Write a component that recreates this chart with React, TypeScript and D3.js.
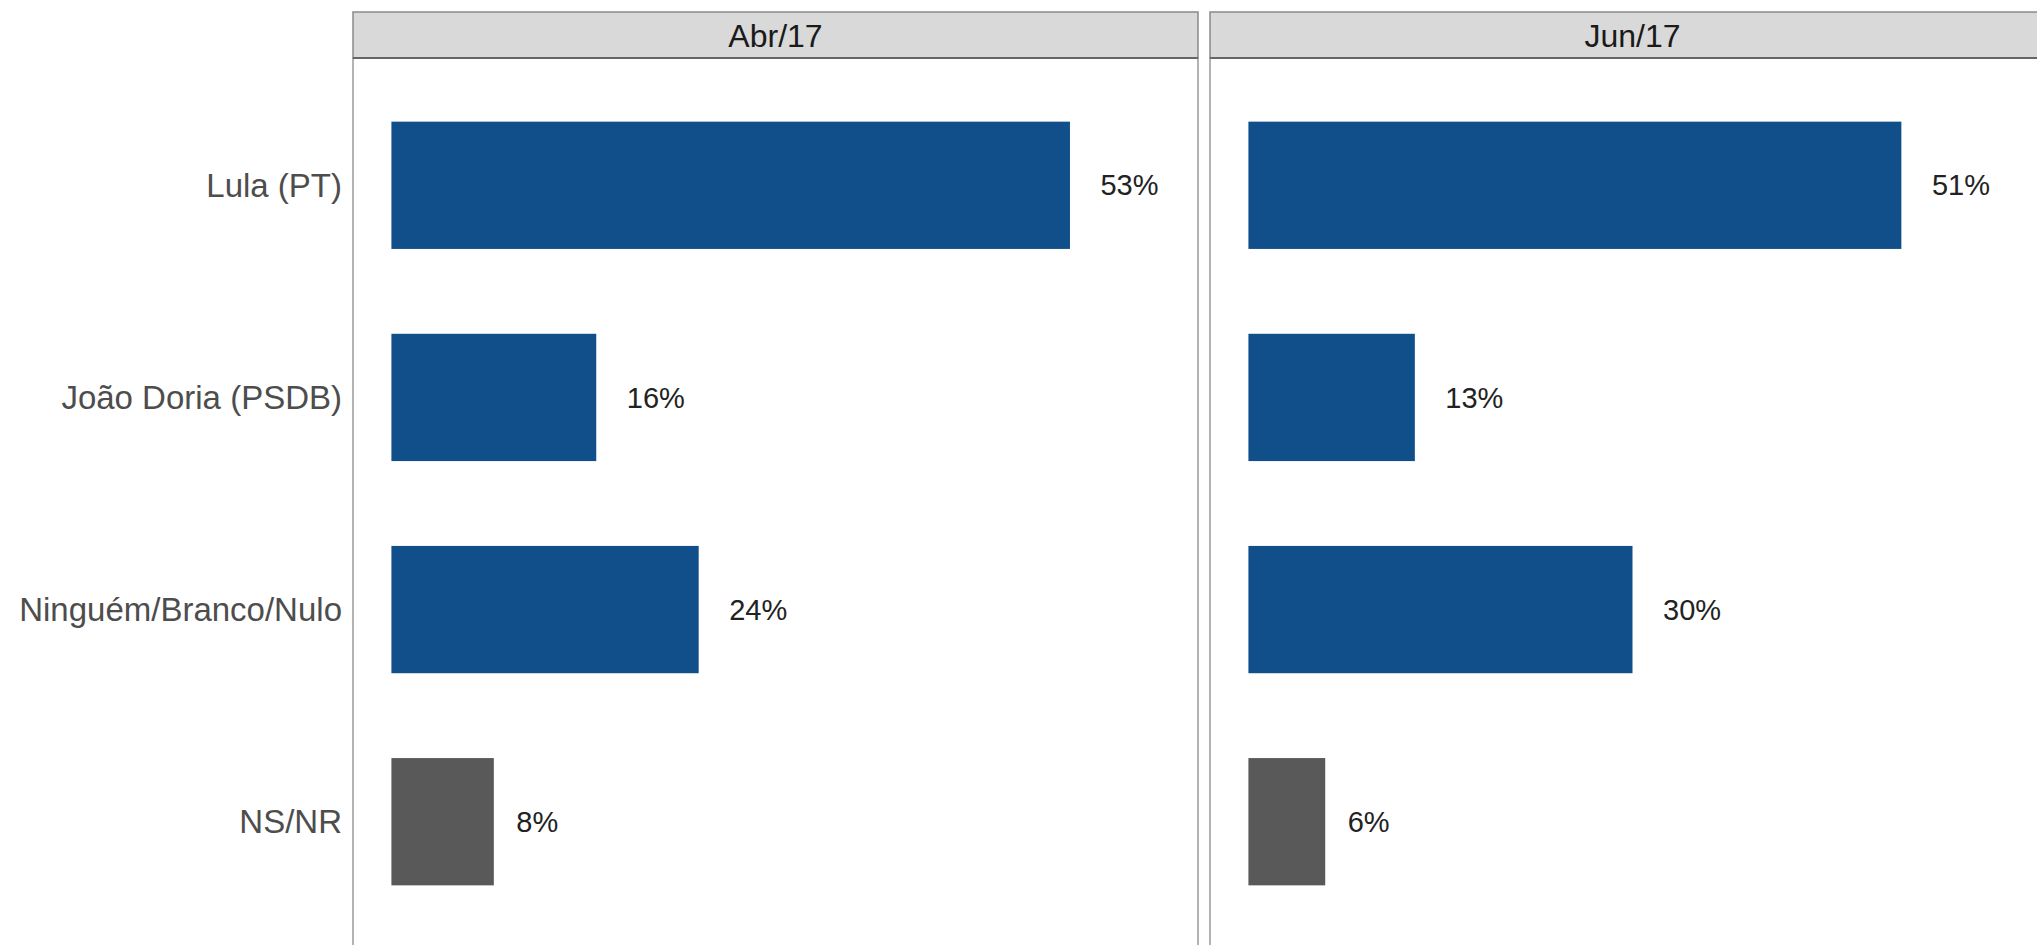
import React from 'react';
import * as d3 from 'd3';

const categories = ['Lula (PT)', 'João Doria (PSDB)', 'Ninguém/Branco/Nulo', 'NS/NR'];
const panels = ['Abr/17', 'Jun/17'];
const abrValues = [53, 16, 24, 8];
const junValues = [51, 13, 30, 6];
const seriesValues = [abrValues, junValues];
const grayCategory = 'NS/NR';

const width = 2037;
const height = 945;
const panelLeft = [353, 1210];
const panelWidth = 845;
const stripTop = 12;
const stripBottom = 58;
const panelBottom = 949;
const labelSize = 29;

const blue = '#114f8a';
const gray = '#595959';

// rough Arial width of a "NN%" label, used for hjust = -0.5 placement
const labelWidth = (s: string) =>
  s.split('').reduce((w, ch) => w + (ch === '%' ? 0.889 : 0.556), 0) * labelSize;

const App: React.FC = () => {
  const y = d3.scaleBand<string>()
    .domain(categories)
    .range([stripBottom, panelBottom])
    .paddingInner(0.4)
    .paddingOuter(0.3);

  return (
    <svg
      width={width}
      height={height}
      style={{ position: 'absolute', left: 0, top: 0, background: '#fff' }}
      fontFamily="'Liberation Sans', Arial, sans-serif"
    >
      <rect x={0} y={0} width={width} height={height} fill="#fff" />
      {/* y axis labels */}
      {categories.map(c => (
        <text
          key={c}
          x={342}
          y={(y(c) as number) + y.bandwidth() / 2}
          dy="0.35em"
          textAnchor="end"
          fontSize={33}
          fill="#4d4d4d"
        >
          {c}
        </text>
      ))}
      {panels.map((p, pi) => {
        const left = panelLeft[pi];
        const x = d3.scaleLinear().domain([-3, 63]).range([left, left + panelWidth]);
        const vals = seriesValues[pi];
        return (
          <g key={p}>
            {/* strip */}
            <rect
              x={left}
              y={stripTop}
              width={panelWidth}
              height={stripBottom - stripTop}
              fill="#d9d9d9"
              stroke="#8a8a8a"
              strokeWidth={1.5}
            />
            <text
              x={left + panelWidth / 2}
              y={(stripTop + stripBottom) / 2}
              dy="0.36em"
              textAnchor="middle"
              fontSize={32}
              fill="#1a1a1a"
            >
              {p}
            </text>
            {/* panel border */}
            <rect
              x={left}
              y={stripBottom}
              width={panelWidth}
              height={panelBottom - stripBottom}
              fill="none"
              stroke="#9a9a9a"
              strokeWidth={1.5}
            />
            <line x1={left} x2={left + panelWidth} y1={stripBottom} y2={stripBottom} stroke="#555" strokeWidth={1.5} />
            {categories.map((c, i) => {
              const label = `${vals[i]}%`;
              return (
                <g key={c}>
                  <rect
                    x={x(0)}
                    y={y(c) as number}
                    width={x(vals[i]) - x(0)}
                    height={y.bandwidth()}
                    fill={c === grayCategory ? gray : blue}
                  />
                  <text
                    x={x(vals[i]) + 1.5 + labelWidth(label) / 2}
                    y={(y(c) as number) + y.bandwidth() / 2}
                    dy="0.35em"
                    fontSize={labelSize}
                    fill="#222"
                  >
                    {label}
                  </text>
                </g>
              );
            })}
          </g>
        );
      })}
    </svg>
  );
};

export default App;
